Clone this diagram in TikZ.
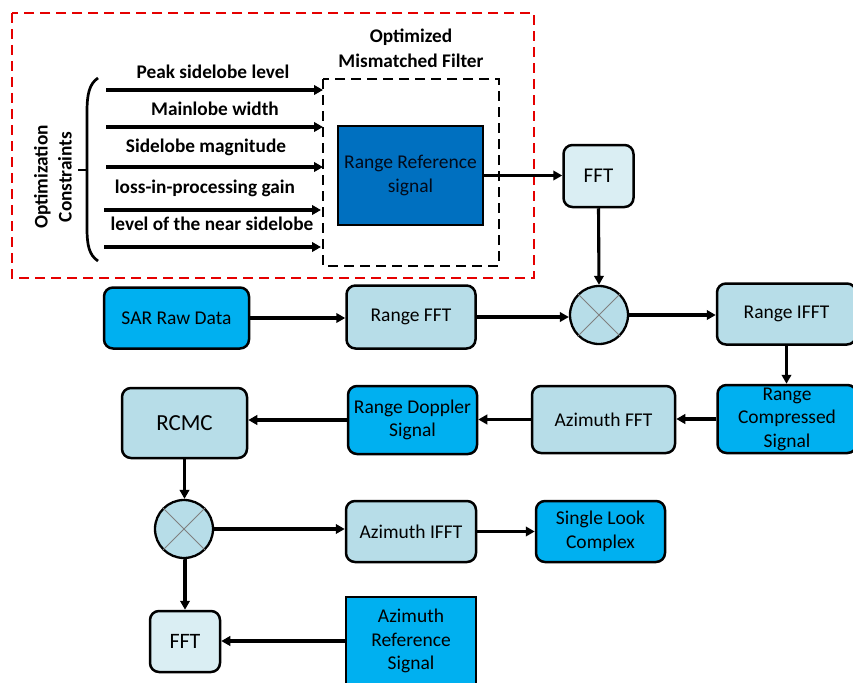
\documentclass[tikz,border=0pt]{standalone}
\usepackage{fontspec}
\setmainfont{Carlito}
\usetikzlibrary{arrows.meta,shapes.geometric}
\definecolor{lightbox}{HTML}{B7DDE8}
\definecolor{paleBox}{HTML}{DAEEF3}
\definecolor{brightbox}{HTML}{00B0F0}
\definecolor{darkbox}{HTML}{0070C0}
\definecolor{navytext}{HTML}{020A1A}
\begin{document}
\begin{tikzpicture}[x=1pt,y=-1pt,
  txt/.style={font=\fontsize{19.5}{23.5}\selectfont, align=center},
  lbl/.style={font=\bfseries\fontsize{19.3}{24}\selectfont, align=center, inner sep=0pt},
  rbox/.style={txt, draw=black, line width=2.5pt, rounded corners=9pt, inner sep=0pt},
  sbox/.style={txt, draw=black, line width=2.5pt, inner sep=0pt},
  mulnode/.style={circle, draw=black, line width=2.3pt, fill=lightbox, minimum size=58pt, inner sep=0pt},
  arr/.style={line width=3.1pt, -{Triangle[length=9pt,width=9.5pt]}},
  cross/.style={draw=gray, line width=0.9pt}
]
\useasboundingbox (0,0) rectangle (853,682);

% outer dashed frames
\draw[red!90!black, line width=2.3pt, dash pattern=on 10pt off 6pt] (12,13) rectangle (534,278);
\draw[black, line width=2.3pt, dash pattern=on 10pt off 6pt] (323,79) rectangle (499,266);

\node[lbl] (optA) at (411,37) {Optimized};
\node[lbl] (optB) at (411,61) {Mismatched Filter};

\node[sbox, fill=darkbox, text=navytext, minimum width=145pt, minimum height=99pt] (rr) at (410.5,175.5) {Range Reference\\signal};

% constraints
\node[lbl, rotate=90] (oc) at (53,177) {Optimization\\Constraints};
\draw[line width=2.7pt] (98,78) .. controls (89,84) and (87,95) .. (87,112) -- (87,228) .. controls (87,245) and (89,255) .. (98,261);
\draw[line width=2.7pt] (78,170) -- (87,170);

\node[lbl] (c1) at (213,72) {Peak sidelobe level};
\node[lbl] (c2) at (215,109) {Mainlobe width};
\node[lbl] (c3) at (206,147) {Sidelobe magnitude};
\node[lbl] (c4) at (205,188) {loss-in-processing gain};
\node[lbl] (c5) at (212,224) {level of the near sidelobe};

\coordinate (s1) at (106,90);  \coordinate (e1) at (323,90);
\coordinate (s2) at (106,127); \coordinate (e2) at (323,127);
\coordinate (s3) at (106,167); \coordinate (e3) at (323,167);
\coordinate (s4) at (104,210); \coordinate (e4) at (321,210);
\coordinate (s5) at (104,247); \coordinate (e5) at (321,247);
\foreach \i in {1,...,5} {\draw[arr] (s\i) -- (e\i);}

% main chain
\node[rbox, fill=paleBox, minimum width=70pt, minimum height=62pt, font=\fontsize{21}{25}\selectfont] (fft1) at (598.5,176) {FFT};
\node[mulnode] (mul1) at (599,315) {};
\draw[cross] (mul1.north west) -- (mul1.south east) (mul1.north east) -- (mul1.south west);

\node[rbox, fill=brightbox, minimum width=145pt, minimum height=61pt] (sar) at (176.5,318) {SAR Raw Data};
\node[rbox, fill=lightbox, minimum width=129pt, minimum height=63pt] (rfft) at (411,317) {Range FFT};
\node[rbox, fill=lightbox, minimum width=139pt, minimum height=61pt] (rifft) at (786.5,314) {Range IFFT};

\node[rbox, fill=brightbox, minimum width=139pt, minimum height=68pt] (rcs) at (787,419) {Range\\Compressed\\Signal};
\node[rbox, fill=lightbox, minimum width=143pt, minimum height=67pt] (azfft) at (603.5,419.5) {Azimuth FFT};
\node[rbox, fill=brightbox, minimum width=129pt, minimum height=68pt] (rds) at (412.5,420) {Range Doppler\\Signal};
\node[rbox, fill=lightbox, minimum width=125pt, minimum height=70pt, font=\fontsize{23}{27}\selectfont] (rcmc) at (184.5,423) {RCMC};

\node[mulnode] (mul2) at (184,529) {};
\draw[cross] (mul2.north west) -- (mul2.south east) (mul2.north east) -- (mul2.south west);

\node[rbox, fill=lightbox, minimum width=130pt, minimum height=61pt] (azifft) at (411,531.5) {Azimuth IFFT};
\node[rbox, fill=brightbox, minimum width=129pt, minimum height=61pt] (slc) at (600.5,531.5) {Single Look\\Complex};

\node[rbox, fill=paleBox, minimum width=70pt, minimum height=61pt, font=\fontsize{22}{26}\selectfont] (fft2) at (185,641.5) {FFT};
\node[sbox, fill=brightbox, minimum width=130pt, minimum height=88pt] (azref) at (411,641) {Azimuth\\Reference\\Signal};

% connectors
\draw[arr] (rr.east) -- (rr.east -| fft1.west);
\draw[arr] (fft1.south) -- (mul1.north);
\draw[arr] (sar.east) -- (sar.east -| rfft.west);
\draw[arr] (rfft.east) -- (rfft.east -| mul1.west);
\draw[arr] (mul1.east) -- (mul1.east -| rifft.west);
\draw[arr] (rifft.south) -- (rifft.south |- rcs.north);
\draw[arr] (rcs.west) -- (rcs.west -| azfft.east);
\draw[arr] (azfft.west) -- (azfft.west -| rds.east);
\draw[arr] (rds.west) -- (rds.west -| rcmc.east);
\draw[arr] (rcmc.south) -- (rcmc.south |- mul2.north);
\draw[arr] (mul2.east) -- (mul2.east -| azifft.west);
\draw[arr] (azifft.east) -- (azifft.east -| slc.west);
\draw[arr] (mul2.south) -- (mul2.south -| fft2.north) -- (fft2.north);
\draw[arr] (azref.west) -- (azref.west -| fft2.east);
\end{tikzpicture}
\end{document}
